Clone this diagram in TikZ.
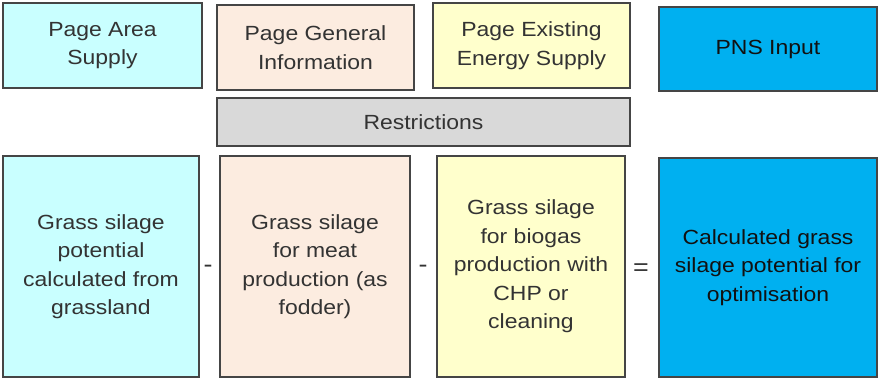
\documentclass[tikz,border=0pt]{standalone}
\usepackage{fontspec}
\setmainfont{Liberation Sans}[FakeStretch=1.12]
\definecolor{cyanbox}{HTML}{C9FFFF}
\definecolor{peachbox}{HTML}{FCECE0}
\definecolor{yellowbox}{HTML}{FFFFCC}
\definecolor{bluebox}{HTML}{00B0F0}
\definecolor{greybox}{HTML}{D9D9D9}
\definecolor{edgegrey}{HTML}{454545}
\definecolor{textgrey}{HTML}{333333}
\definecolor{textdark}{HTML}{111111}
\begin{document}
\begin{tikzpicture}[x=1pt,y=-1pt,
  box/.style={draw=edgegrey, line width=1.4pt, inner sep=0pt, align=center,
    text=textgrey, font=\fontsize{20.5}{28.5}\selectfont},
  opsign/.style={inner sep=0pt, text=textgrey, font=\fontsize{24}{28}\selectfont}]
\useasboundingbox (0,0) rectangle (880,379);
% top row
\node[box, fill=cyanbox, minimum width=199pt, minimum height=85pt] (pas) at (102.5,45.5) {Page Area\\Supply};
\node[box, fill=peachbox, minimum width=197pt, minimum height=85pt] (pgi) at (315.5,47.5) {Page General\\Information};
\node[box, fill=yellowbox, minimum width=197pt, minimum height=85pt] (pees) at (531.5,45.5) {Page Existing\\Energy Supply};
\node[box, fill=bluebox, text=textdark, minimum width=218pt, minimum height=84pt] (pns) at (768,49) {PNS Input};
\node[box, fill=greybox, minimum width=413pt, minimum height=48pt] (restr) at (423.5,122) {Restrictions};
% bottom row
\node[box, fill=cyanbox, minimum width=196pt, minimum height=221pt] (grass) at (101,266.5) {Grass silage\\potential\\calculated from\\grassland};
\node[box, fill=peachbox, minimum width=190pt, minimum height=221pt] (meat) at (315,266.5) {Grass silage\\for meat\\production (as\\fodder)};
\node[box, fill=yellowbox, minimum width=188pt, minimum height=221pt] (biogas) at (531,266.5) {Grass silage\\for biogas\\production with\\CHP or\\cleaning};
\node[box, fill=bluebox, text=textdark, minimum width=218pt, minimum height=219pt] (optim) at (768,267.5) {Calculated grass\\silage potential for\\optimisation};
% operators
\node[opsign] (minusa) at (208,268.5) {-};
\node[opsign] (minusb) at (423,268.5) {-};
\node[opsign] (equal) at (641,270) {=};
\end{tikzpicture}
\end{document}
